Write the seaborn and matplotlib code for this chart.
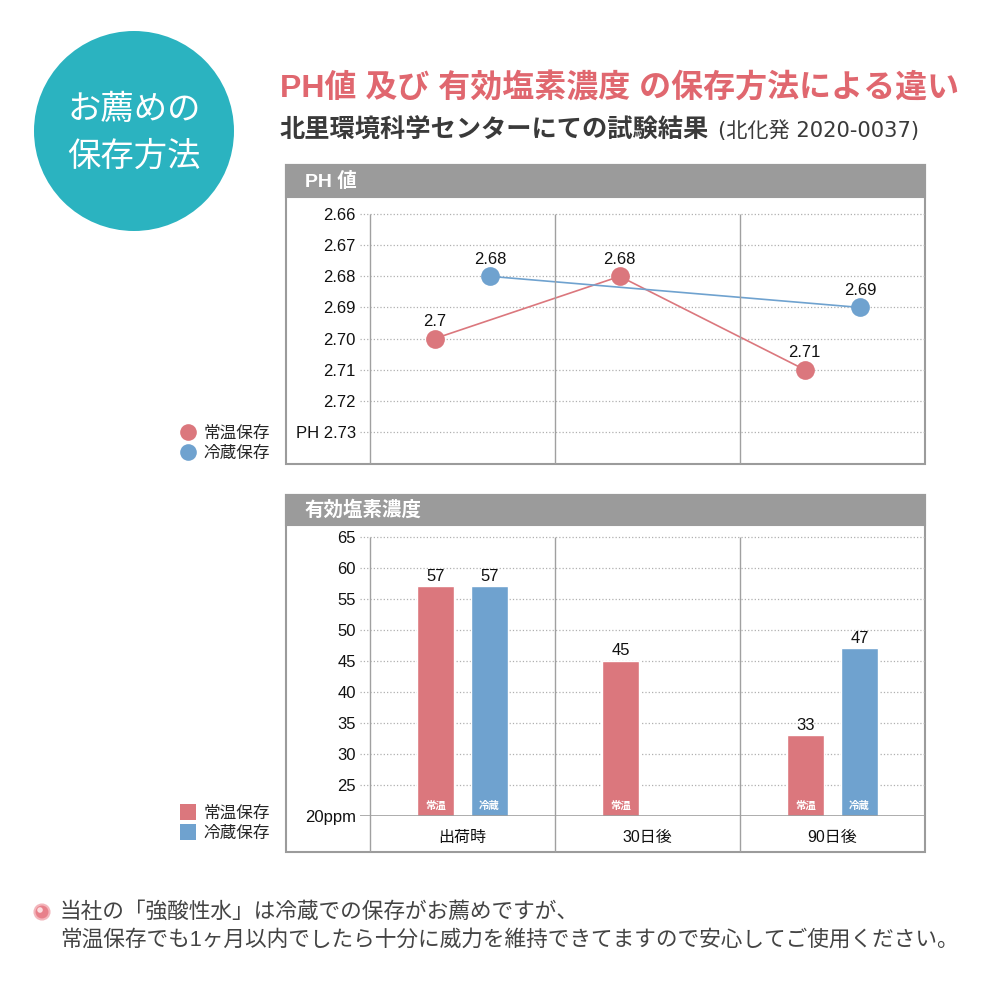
import numpy as np
import pandas as pd
import matplotlib.pyplot as plt
import seaborn as sns
from matplotlib.patches import Rectangle, Circle
from matplotlib.lines import Line2D

# データ
periods = ["出荷時", "30日後", "90日後"]
storage = ["常温保存", "冷蔵保存"]
short_names = ["常温", "冷蔵"]

ph_normal = [2.70, 2.68, 2.71]
ph_cold = [2.68, np.nan, 2.69]
cl_normal = [57, 45, 33]
cl_cold = [57, np.nan, 47]

ph_ticks = [2.66, 2.67, 2.68, 2.69, 2.70, 2.71, 2.72, 2.73]
ph_ticklabels = ["2.66", "2.67", "2.68", "2.69", "2.70", "2.71", "2.72", "PH 2.73"]
cl_ticks = [20, 25, 30, 35, 40, 45, 50, 55, 60, 65]
cl_ticklabels = ["20ppm", "25", "30", "35", "40", "45", "50", "55", "60", "65"]

RED = "#db777d"
BLUE = "#6fa2cf"
GREY = "#9b9b9b"
TEAL = "#2bb3c0"

sns.set_theme(style="white")
plt.rcParams["font.family"] = ["Liberation Sans", "Noto Sans CJK JP", "DejaVu Sans"]

# データフレーム
df_ph = pd.DataFrame({
    "period": periods * 2,
    "storage": [storage[0]] * 3 + [storage[1]] * 3,
    "ph": ph_normal + ph_cold,
})
offset = {storage[0]: -0.15, storage[1]: 0.15}
df_ph["pos"] = df_ph["period"].map({p: i for i, p in enumerate(periods)}) + df_ph["storage"].map(offset)

df_cl = pd.DataFrame({
    "period": periods * 2,
    "storage": [storage[0]] * 3 + [storage[1]] * 3,
    "value": cl_normal + cl_cold,
})

fig = plt.figure(figsize=(10, 10), dpi=100)

# 左上の丸
fig.patches.append(Circle((0.134, 0.869), 0.100, transform=fig.transFigure,
                          facecolor=TEAL, edgecolor="none"))
fig.text(0.134, 0.866, "お薦めの\n保存方法", ha="center", va="center", color="white",
         fontsize=24, linespacing=1.65)

# タイトル
fig.text(0.280, 0.912, "PH値 及び 有効塩素濃度 の保存方法による違い", ha="left", va="center",
         color="#e0676f", fontsize=23, fontweight="bold")
fig.text(0.280, 0.870, "北里環境科学センターにての試験結果", ha="left", va="center",
         color="#3a3a3a", fontsize=18.2, fontweight="bold")
fig.text(0.718, 0.869, "(北化発 2020-0037)", ha="left", va="center",
         color="#3a3a3a", fontsize=15.2, family=["DejaVu Sans", "Noto Sans CJK JP"])

# 枠とヘッダー
def panel(y_top, y_bottom, header_h, title):
    fig.patches.append(Rectangle((0.286, 1 - y_bottom / 1000), 0.639, (y_bottom - y_top) / 1000,
                                 transform=fig.transFigure, facecolor="white",
                                 edgecolor=GREY, lw=1.5, zorder=-1))
    fig.patches.append(Rectangle((0.286, 1 - (y_top + header_h) / 1000), 0.639, header_h / 1000,
                                 transform=fig.transFigure, facecolor=GREY,
                                 edgecolor=GREY, lw=1.5, zorder=-1))
    fig.text(0.305, 1 - (y_top + header_h / 2) / 1000, title, ha="left", va="center",
             color="white", fontsize=14, fontweight="bold")

panel(165, 464, 32, "PH 値")
panel(495, 852, 30, "有効塩素濃度")

# PH 値
ax1 = fig.add_axes([0.360, 0.536, 0.565, 0.267])
ax1.set_facecolor("none")
sns.lineplot(data=df_ph, x="pos", y="ph", hue="storage", hue_order=storage,
             palette=[RED, BLUE], marker="o", markersize=13.5, markeredgewidth=0,
             linewidth=1.2, legend=False, ax=ax1)
for row in df_ph.dropna().itertuples():
    ax1.annotate(f"{row.ph:g}", (row.pos, row.ph), xytext=(0, 7), textcoords="offset points",
                 ha="center", va="bottom", fontsize=12, color="#111111")
ax1.set_xlim(-0.5 - 10 / 185, 2.5)
ax1.set_ylim(2.7403, 2.6545)
ax1.set_yticks(ph_ticks)
ax1.set_yticklabels(ph_ticklabels)
ax1.set_xticks([])
ax1.set_xlabel("")
ax1.set_ylabel("")
ax1.grid(axis="y", linestyle=":", color="#b0b0b0", lw=0.9)
ax1.vlines([-0.5, 0.5, 1.5], 2.66, 2.7403, color="#a0a0a0", lw=1)
ax1.tick_params(axis="y", length=0, pad=3, labelsize=12, labelcolor="#111111")
for s in ax1.spines.values():
    s.set_visible(False)

# 有効塩素濃度
ax2 = fig.add_axes([0.360, 0.184, 0.565, 0.291])
ax2.set_facecolor("none")
sns.barplot(data=df_cl, x="period", y="value", hue="storage", order=periods, hue_order=storage,
            palette=[RED, BLUE], saturation=1, width=0.585, gap=0.3, errorbar=None,
            legend=False, ax=ax2, zorder=2)
ax2.set_xlim(-0.5 - 10 / 185, 2.5)
ax2.set_ylim(20, 66.9)
ax2.set_yticks(cl_ticks)
ax2.set_yticklabels(cl_ticklabels)
ax2.set_xlabel("")
ax2.set_ylabel("")
ax2.grid(axis="y", linestyle=":", color="#b0b0b0", lw=0.9)
ax2.set_axisbelow(True)
ax2.axhline(20, color="#a0a0a0", lw=1.2, zorder=3)
ax2.vlines([-0.5, 0.5, 1.5], 14.2, 65, color="#a0a0a0", lw=1, clip_on=False)
ax2.tick_params(axis="y", length=0, pad=3, labelsize=12, labelcolor="#111111")
ax2.tick_params(axis="x", length=0, pad=10, labelsize=11.5, labelcolor="#111111")
for s in ax2.spines.values():
    s.set_visible(False)

for cont, name in zip(ax2.containers, short_names):
    labels = [f"{v:g}" if np.isfinite(v) else "" for v in cont.datavalues]
    ax2.bar_label(cont, labels=labels, padding=2, fontsize=12, color="#111111")
    for bar in cont:
        if np.isfinite(bar.get_height()) and bar.get_height() > 0:
            ax2.text(bar.get_x() + bar.get_width() / 2, 21.6, name, ha="center", va="center",
                     color="white", fontsize=7.5, fontweight="bold", zorder=4)

# 凡例
circle_handles = [Line2D([], [], ls="none", marker="o", markersize=12, color=c, markeredgewidth=0)
                  for c in [RED, BLUE]]
square_handles = [Line2D([], [], ls="none", marker="s", markersize=12, color=c, markeredgewidth=0)
                  for c in [RED, BLUE]]
for handles, yc in [(circle_handles, 0.557), (square_handles, 0.177)]:
    fig.legend(handles, storage, loc="center left", bbox_to_anchor=(0.180, yc), frameon=False,
               handlelength=1, handletextpad=0.4, labelspacing=0.3, borderpad=0,
               borderaxespad=0, fontsize=12)

# 注記
fig.patches.append(Circle((0.042, 0.088), 0.0075, transform=fig.transFigure,
                          facecolor="#e8808a", edgecolor="#f3b5bb", lw=1.5))
fig.patches.append(Circle((0.040, 0.090), 0.0028, transform=fig.transFigure,
                          facecolor="#fbdde0", edgecolor="none"))
fig.text(0.060, 0.088, "当社の「強酸性水」は冷蔵での保存がお薦めですが、", ha="left", va="center",
         color="#444444", fontsize=15.6)
fig.text(0.060, 0.060, "常温保存でも1ヶ月以内でしたら十分に威力を維持できてますので安心してご使用ください。",
         ha="left", va="center", color="#444444", fontsize=15.6)

fig.savefig("out.png", dpi=100)
